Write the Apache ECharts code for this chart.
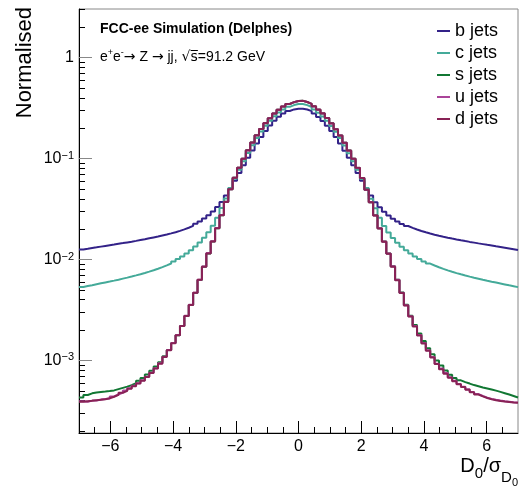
<!DOCTYPE html>
<html><head><meta charset="utf-8">
<script src="https://cdn.jsdelivr.net/npm/echarts@6/dist/echarts.min.js"></script>
<style>html,body{margin:0;padding:0;background:#fff}#c{width:524px;height:489px}</style>
</head><body><div id="c"></div>
<script>
// histogram binning: 100 bins from -7 to 7
const binLow = -7, binHigh = 7;

const bJets = [
0.01259,0.01279,0.0130,0.01321,0.01343,0.01365,0.01387,0.01409,0.01432,0.01455,
0.01479,0.01503,0.01531,0.0156,0.01589,0.01622,0.01656,0.0169,0.0173,0.0177,
0.01816,0.01866,0.01923,0.0199,0.02065,0.02153,0.0226,0.02388,0.02547,0.02742,
0.02985,0.0331,0.0372,0.04315,0.0507,0.0605,0.0721,0.0861,0.1023,0.1202,
0.1413,0.164,0.1884,0.2128,0.2371,0.260,0.280,0.2965,0.3076,0.3126,
0.3120,0.3070,0.2958,0.2795,0.2592,0.2365,0.2122,0.1880,0.1636,0.1410,
0.1199,0.1020,0.0858,0.0719,0.0603,0.0505,0.0430,0.0370,0.0330,0.02978,
0.02737,0.02542,0.02383,0.02255,0.02148,0.02061,0.01986,0.01919,0.01862,0.01810,
0.01764,0.01722,0.01684,0.01648,0.01614,0.01582,0.01551,0.01523,0.01496,0.01471,
0.01446,0.01422,0.01398,0.01375,0.01352,0.01330,0.01308,0.01286,0.01264,0.01242];

const cJets = [
0.00535,0.00546,0.00557,0.00569,0.00581,0.00593,0.00605,0.00618,0.00632,0.00647,
0.00662,0.00679,0.00697,0.00716,0.00736,0.00759,0.00783,0.00811,0.00841,0.00875,
0.00914,0.00959,0.01012,0.01074,0.01148,0.01236,0.01343,0.01472,0.01641,0.01862,
0.02163,0.0260,0.03236,0.04027,0.05129,0.0631,0.0776,0.0944,0.1135,0.1355,
0.1603,0.1854,0.2113,0.2377,0.263,0.2864,0.3076,0.3258,0.3396,0.3483,
0.3478,0.3390,0.3250,0.3068,0.2856,0.2622,0.2370,0.2107,0.1848,0.1598,
0.1351,0.1132,0.0941,0.0774,0.0629,0.0511,0.0401,0.0322,0.0259,0.02155,
0.01856,0.01636,0.01468,0.01340,0.01233,0.01146,0.01072,0.01010,0.00957,0.00912,
0.00873,0.00839,0.00809,0.00781,0.00757,0.00734,0.00714,0.00695,0.00677,0.00660,
0.00645,0.00630,0.00616,0.00603,0.00591,0.00579,0.00567,0.00555,0.00544,0.00533];

const sJets = [
4.3e-4,4.55e-4,4.72e-4,4.82e-4,4.88e-4,4.92e-4,4.97e-4,5.05e-4,5.2e-4,5.35e-4,
5.5e-4,5.7e-4,5.95e-4,6.3e-4,6.7e-4,7.25e-4,7.9e-4,8.7e-4,9.6e-4,1.1e-3,
1.27e-3,1.49e-3,1.78e-3,2.19e-3,2.75e-3,3.55e-3,4.67e-3,6.28e-3,8.48e-3,0.0115,
0.0151,0.0204,0.0275,0.0373,0.0498,0.0646,0.0812,0.0999,0.1208,0.1443,
0.1703,0.1968,0.2248,0.2518,0.2798,0.3053,0.3288,0.3478,0.3628,0.3728,
0.3738,0.3638,0.3488,0.3298,0.3058,0.2808,0.2528,0.2238,0.1958,0.1698,
0.1438,0.1203,0.0997,0.0809,0.0642,0.0493,0.0370,0.0274,0.0204,0.0151,
0.0115,0.0086,6.3e-3,4.72e-3,3.56e-3,2.78e-3,2.24e-3,1.85e-3,1.56e-3,1.32e-3,
1.15e-3,1.0e-3,8.9e-4,7.95e-4,7.2e-4,6.7e-4,6.35e-4,6.1e-4,5.9e-4,5.7e-4,
5.55e-4,5.4e-4,5.28e-4,5.15e-4,5.02e-4,4.88e-4,4.74e-4,4.6e-4,4.45e-4,4.3e-4];

const uJets = [
3.95e-4,3.9e-4,4.0e-4,4.0e-4,4.1e-4,4.15e-4,4.2e-4,4.4e-4,4.6e-4,4.8e-4,
5.05e-4,5.3e-4,5.6e-4,5.95e-4,6.35e-4,6.9e-4,7.55e-4,8.35e-4,9.4e-4,1.09e-3,
1.27e-3,1.49e-3,1.79e-3,2.2e-3,2.77e-3,3.57e-3,4.7e-3,6.32e-3,8.55e-3,0.0116,
0.0152,0.0205,0.0276,0.0373,0.0497,0.0645,0.0811,0.0998,0.1205,0.1440,
0.1700,0.1965,0.2245,0.2515,0.2795,0.305,0.3285,0.3475,0.3625,0.3725,
0.3735,0.3635,0.3485,0.3295,0.3055,0.2805,0.2525,0.2235,0.1955,0.1695,
0.1435,0.1200,0.0995,0.0808,0.0641,0.0492,0.0369,0.0273,0.0204,0.0151,
0.0115,0.0086,6.3e-3,4.7e-3,3.53e-3,2.74e-3,2.19e-3,1.79e-3,1.49e-3,1.26e-3,
1.08e-3,9.3e-4,8.3e-4,7.5e-4,6.8e-4,6.28e-4,5.85e-4,5.5e-4,5.17e-4,4.88e-4,
4.64e-4,4.44e-4,4.28e-4,4.16e-4,4.07e-4,4.0e-4,3.94e-4,3.9e-4,3.86e-4,3.83e-4];

const dJets = [
3.9e-4,3.94e-4,3.98e-4,4.03e-4,4.07e-4,4.12e-4,4.22e-4,4.37e-4,4.57e-4,4.79e-4,
5.0e-4,5.25e-4,5.56e-4,5.9e-4,6.3e-4,6.84e-4,7.5e-4,8.3e-4,9.3e-4,1.08e-3,
1.26e-3,1.48e-3,1.78e-3,2.19e-3,2.75e-3,3.55e-3,4.68e-3,6.3e-3,8.5e-3,0.0115,
0.0151,0.0204,0.0275,0.0372,0.0498,0.0646,0.0813,0.100,0.121,0.1445,
0.1706,0.197,0.225,0.252,0.280,0.3055,0.329,0.348,0.363,0.373,
0.374,0.364,0.349,0.330,0.306,0.281,0.253,0.224,0.196,0.170,
0.1440,0.1205,0.0998,0.0810,0.0642,0.0493,0.0370,0.0273,0.0203,0.0150,
0.0114,0.0085,6.25e-3,4.65e-3,3.5e-3,2.72e-3,2.17e-3,1.77e-3,1.47e-3,1.25e-3,
1.07e-3,9.2e-4,8.2e-4,7.4e-4,6.75e-4,6.22e-4,5.82e-4,5.45e-4,5.12e-4,4.84e-4,
4.6e-4,4.4e-4,4.24e-4,4.12e-4,4.03e-4,3.96e-4,3.91e-4,3.87e-4,3.83e-4,3.8e-4];

const seriesNames = ['b jets','c jets','s jets','u jets','d jets'];
const seriesValues = [bJets, cJets, sJets, uJets, dJets];
const seriesColors = ['#332288','#44AA99','#117733','#AA4499','#882255'];
const xMajorTicks = [-6,-4,-2,0,2,4,6];
const yMajorTicks = [0.001,0.01,0.1,1];
const yMin = 1.91e-4, yMax = 3.04;

const FONT = '"Liberation Sans", Arial, Helvetica, sans-serif';
const SYMFONT = '"DejaVu Sans", sans-serif';

function toSteps(vals){
  const w = (binHigh - binLow) / vals.length;
  const d = vals.map((v,i) => [binLow + i*w, v]);
  d.push([binHigh, vals[vals.length-1]]);
  return d;
}
const xMinorTicks = [];
for (let k = -13; k <= 13; k++) { const v = k*0.5; if (!(Number.isInteger(v) && v % 2 === 0)) xMinorTicks.push(v); }
const yMinorTicks = [];
for (let e = -4; e <= 0; e++) for (let m = 2; m <= 9; m++) { const v = m*Math.pow(10,e); if (v > yMin && v < yMax) yMinorTicks.push(v); }

const chart = echarts.init(document.getElementById('c'), null, {renderer:'canvas'});
chart.setOption({
  animation: false,
  backgroundColor: '#fff',
  textStyle: {fontFamily: FONT},
  grid: {left: 79, right: 6, top: 9, bottom: 56, show: true, borderColor: '#888', borderWidth: 1},
  legend: {
    data: seriesNames, orient: 'vertical', left: 437, top: 22, padding: 0,
    itemGap: 4, itemWidth: 13, itemHeight: 2, icon: 'rect',
    textStyle: {fontSize: 18, fontFamily: FONT, color: '#000', lineHeight: 18}
  },
  xAxis: [{
    type: 'value', min: binLow, max: binHigh, position: 'bottom',
    axisLine: {show: true, onZero: false, lineStyle: {color: '#000', width: 1}},
    axisTick: {show: true, inside: true, length: 12, customValues: xMajorTicks, lineStyle: {color: '#000'}},
    axisLabel: {customValues: xMajorTicks, fontSize: 16, color: '#000', margin: 6,
      formatter: v => v < 0 ? '\u2212' + (-v) : '' + v},
    splitLine: {show: false}
  }, {
    type: 'value', min: binLow, max: binHigh, position: 'bottom',
    axisLine: {show: false, onZero: false},
    axisTick: {show: true, inside: true, length: 6, customValues: xMinorTicks, lineStyle: {color: '#000'}},
    axisLabel: {show: false}, splitLine: {show: false}
  }],
  yAxis: [{
    type: 'log', logBase: 10, min: yMin, max: yMax, position: 'left',
    axisLine: {show: true, onZero: false, lineStyle: {color: '#000', width: 1}},
    axisTick: {show: true, inside: true, length: 13, customValues: yMajorTicks, lineStyle: {color: '#888'}},
    axisLabel: {customValues: yMajorTicks, fontSize: 16, color: '#000', margin: 5,
      formatter: v => { const e = Math.round(Math.log10(v)); return e === 0 ? '1' : '10{sup|\u2212' + (-e) + '}'; },
      rich: {sup: {fontSize: 11, color: '#000', padding: [0,0,6,0]}}},
    splitLine: {show: false}
  }, {
    type: 'log', logBase: 10, min: yMin, max: yMax, position: 'left',
    axisLine: {show: false, onZero: false},
    axisTick: {show: true, inside: true, length: 6, customValues: yMinorTicks, lineStyle: {color: '#000'}},
    axisLabel: {show: false}, splitLine: {show: false}
  }],
  series: seriesNames.map((n,i) => ({
    name: n, type: 'line', step: 'end', xAxisIndex: 0, yAxisIndex: 0,
    showSymbol: false, symbol: 'none', color: seriesColors[i],
    lineStyle: {width: 2, color: seriesColors[i]},
    data: toSteps(seriesValues[i])
  })),
  graphic: [
    {type: 'text', x: 100, y: 29, style: {text: 'FCC-ee Simulation (Delphes)', fontSize: 14, fontWeight: 'bold', fontFamily: FONT, fill: '#000', verticalAlign: 'middle'}},
    {type: 'text', x: 100, y: 57, style: {text: 'e{sup|+}e{sup|-}{ar|\u2192} Z {ar|\u2192} jj, {ar|\u221As\u0305}=91.2 GeV', fontSize: 14, fontFamily: FONT, fill: '#000', verticalAlign: 'middle',
      rich: {sup: {fontSize: 9, fontFamily: FONT, fill: '#000', padding: [0,0,8,0]},
             ar: {fontSize: 14, fontFamily: SYMFONT, fill: '#000'}}}},
    {type: 'text', x: 25, y: 7, rotation: Math.PI/2, style: {text: 'Normalised', fontSize: 22, fontFamily: FONT, fill: '#000', align: 'right', verticalAlign: 'middle'}},
    {type: 'text', x: 518, y: 466.5, style: {text: 'D{sub|0}/\u03C3{sub2|D}{sub3|0}', fontSize: 20, fontFamily: FONT, fill: '#000', align: 'right', verticalAlign: 'middle',
      rich: {sub: {fontSize: 15, fontFamily: FONT, fill: '#000', padding: [14,0,0,0]},
             sub2: {fontSize: 15, fontFamily: FONT, fill: '#000', padding: [22,0,0,0]},
             sub3: {fontSize: 11, fontFamily: FONT, fill: '#000', padding: [32,0,0,0]}}}}
  ]
});
</script></body></html>
